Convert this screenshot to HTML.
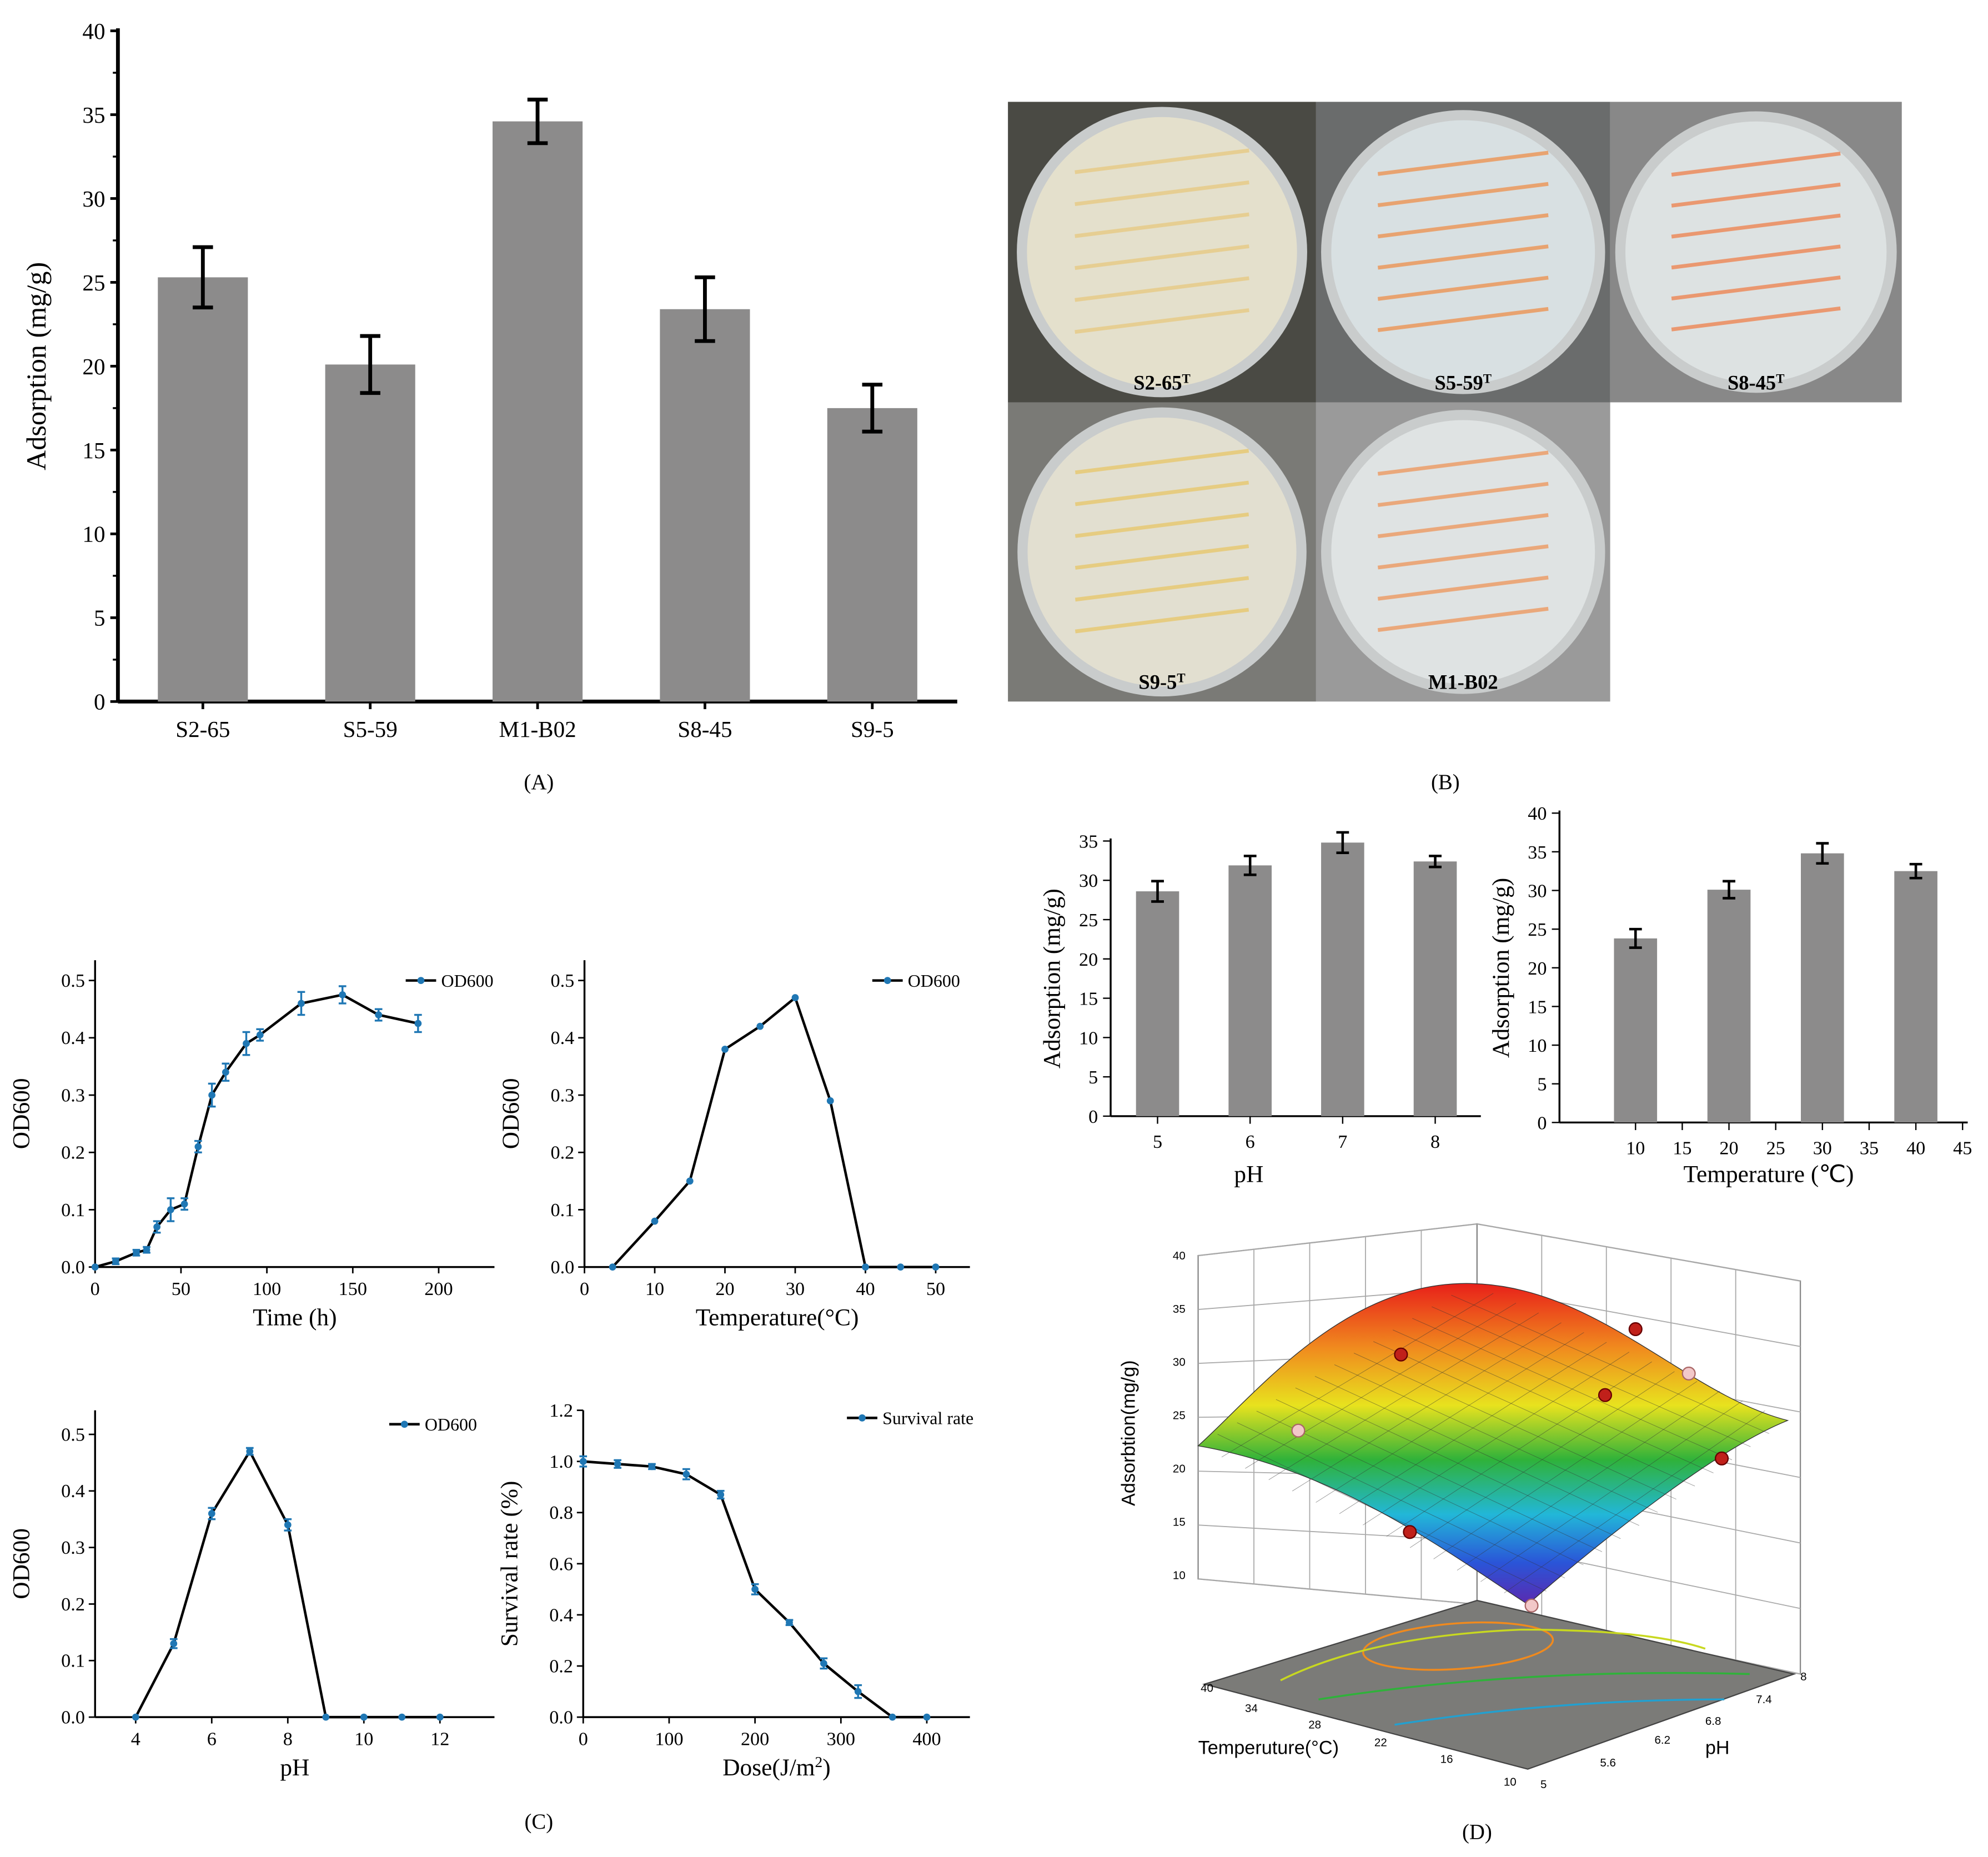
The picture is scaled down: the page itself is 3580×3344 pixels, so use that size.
<!DOCTYPE html>
<html><head><meta charset="utf-8">
<style>
html,body{margin:0;padding:0;background:#fff;}
svg{display:block;font-family:"Liberation Serif",serif;}
</style></head>
<body>
<svg id="s" width="3580" height="3344" viewBox="0 0 1568 1464" xmlns="http://www.w3.org/2000/svg">
<defs>
<linearGradient id="surf" x1="0" y1="0" x2="0" y2="1">
<stop offset="0" stop-color="#e8201a"/><stop offset="0.2" stop-color="#f08a1e"/><stop offset="0.38" stop-color="#e8e21e"/>
<stop offset="0.55" stop-color="#2fb23a"/><stop offset="0.72" stop-color="#22b7d8"/><stop offset="0.87" stop-color="#2a55d8"/><stop offset="1" stop-color="#5a2ab0"/>
</linearGradient>
</defs>
<g id="root"></g>
</svg>
<script>
const NS="http://www.w3.org/2000/svg";
const root=document.getElementById('root');
function el(tag,attrs,parent,text){const e=document.createElementNS(NS,tag);for(const k in attrs)e.setAttribute(k,attrs[k]);if(text!==undefined)e.textContent=text;(parent||root).appendChild(e);return e;}

// ---------- Panel A data ----------
const aCats=["S2-65","S5-59","M1-B02","S8-45","S9-5"];
const aVals=[25.3,20.1,34.6,23.4,17.5];
const aErr=[1.8,1.7,1.3,1.9,1.4];
const aTicks=[0,5,10,15,20,25,30,35,40];
// ---------- pH bar data ----------
const phCats=[5,6,7,8];
const phVals=[28.6,31.9,34.8,32.4];
const phErr=[1.3,1.2,1.3,0.7];
const phTicks=[0,5,10,15,20,25,30,35];
// ---------- Temperature bar data ----------
const tCats=[10,20,30,40];
const tVals=[23.8,30.1,34.8,32.5];
const tErr=[1.2,1.1,1.3,0.9];
const tTicks=[0,5,10,15,20,25,30,35,40];
const tXTicks=[10,15,20,25,30,35,40,45];
// ---------- Line charts ----------
const timeX=[0,12,24,30,36,44,52,60,68,76,88,96,120,144,165,188];
const timeY=[0,0.01,0.025,0.03,0.07,0.1,0.11,0.21,0.3,0.34,0.39,0.405,0.46,0.475,0.44,0.425];
const timeE=[0,0.005,0.005,0.005,0.01,0.02,0.01,0.01,0.02,0.015,0.02,0.01,0.02,0.015,0.01,0.015];
const tempX=[4,10,15,20,25,30,35,40,45,50];
const tempY=[0,0.08,0.15,0.38,0.42,0.47,0.29,0,0,0];
const pHX=[4,5,6,7,8,9,10,11,12];
const pHY=[0,0.13,0.36,0.47,0.34,0,0,0,0];
const pHE=[0,0.008,0.01,0.006,0.01,0,0,0,0];
const doseX=[0,40,80,120,160,200,240,280,320,360,400];
const doseY=[1.0,0.99,0.98,0.95,0.87,0.5,0.37,0.21,0.1,0,0];
const doseE=[0.02,0.015,0.01,0.02,0.015,0.02,0.01,0.02,0.025,0,0];

function barChart(o){
  const g=el('g',{});
  
  
  const ys=v=>o.y0-(v-o.vmin)*(o.y0-o.y1)/(o.vmax-o.vmin);
  el('line',{x1:o.ax,y1:o.y0,x2:o.ax,y2:o.y1-2,stroke:'#000','stroke-width':o.sw},g);
  el('line',{x1:o.ax,y1:o.y0,x2:o.axEnd,y2:o.y0,stroke:'#000','stroke-width':o.sw},g);
  o.ticks.forEach(t=>{const y=ys(t);el('line',{x1:o.ax-6,y1:y,x2:o.ax,y2:y,stroke:'#000','stroke-width':o.sw*0.7},g);
    const tl=el('text',{x:o.ax-10,y:y+o.fs*0.35,'font-size':o.fs,'text-anchor':'end'},g,t);
    });
  if(o.minor)o.ticks.slice(0,-1).forEach(t=>{const y=ys(t+(o.ticks[1]-o.ticks[0])/2);el('line',{x1:o.ax-4,y1:y,x2:o.ax,y2:y,stroke:'#000','stroke-width':1.5},g);});
  o.vals.forEach((v,i)=>{const cx=o.xs(o.cats[i]);
    const b=el('rect',{x:cx-o.bw/2,y:ys(v),width:o.bw,height:o.y0-ys(v),fill:'#8c8b8b'},g);
    
    const e=o.err[i],yt=ys(v+e),yb=ys(v-e);
    el('line',{x1:cx,y1:yt,x2:cx,y2:yb,stroke:'#000','stroke-width':o.ew},g);
    el('line',{x1:cx-o.cap,y1:yt,x2:cx+o.cap,y2:yt,stroke:'#000','stroke-width':o.ew},g);
    el('line',{x1:cx-o.cap,y1:yb,x2:cx+o.cap,y2:yb,stroke:'#000','stroke-width':o.ew},g);
  });
  (o.xticks||o.cats).forEach(c=>{const x=o.xs(c);
    el('line',{x1:x,y1:o.y0,x2:x,y2:o.y0+6,stroke:'#000','stroke-width':o.sw*0.7},g);
    const tl=el('text',{x:x,y:o.y0+o.fs+10,'font-size':o.fs,'text-anchor':'middle'},g,c);
    });
  const yl=el('text',{x:0,y:0,'font-size':o.lfs,'text-anchor':'middle',transform:`translate(${o.ylx},${(o.y0+o.y1)/2}) rotate(-90)`},g,o.ylabel);
  
  if(o.xlabel){const xl=el('text',{x:o.xlx,y:o.xly,'font-size':o.lfs,'text-anchor':'middle'},g,o.xlabel);
    }
}

// Panel A
barChart({name:'adsorption-bar-chart',ax:93,axEnd:755,y0:553,y1:24,vmin:0,vmax:40,ticks:aTicks,minor:true,
  cats:aCats,vals:aVals,err:aErr,xs:c=>160+aCats.indexOf(c)*132,bw:71,cap:8,ew:3,sw:3,fs:18,lfs:22,
  ylabel:'Adsorption (mg/g)',ylx:36});
// pH bars
barChart({name:'ph-bar-chart',ax:876,axEnd:1168,y0:880,y1:663,vmin:0,vmax:35,ticks:phTicks,
  cats:phCats,vals:phVals,err:phErr,xs:c=>913+(c-5)*73,bw:34,cap:5,ew:2,sw:1.5,fs:15,lfs:19,
  ylabel:'Adsorption (mg/g)',ylx:836,xlabel:'pH',xlx:985,xly:932});
// temp bars
barChart({name:'temperature-bar-chart',ax:1230,axEnd:1552,y0:885,y1:641,vmin:0,vmax:40,ticks:tTicks,
  cats:tCats,vals:tVals,err:tErr,xticks:tXTicks,xs:c=>1290+(c-10)*7.37,bw:34,cap:5,ew:2,sw:1.5,fs:15,lfs:19,
  ylabel:'Adsorption (mg/g)',ylx:1190,xlabel:'Temperature (℃)',xlx:1395,xly:932});

function lineChart(o){
  const g=el('g',{});
  
  
  const xs=v=>o.x0+(v-o.xmin)*(o.x1-o.x0)/(o.xmax-o.xmin);
  const ys=v=>o.y0-(v-o.ymin)*(o.y0-o.y1)/(o.ymax-o.ymin);
  el('line',{x1:o.axL,y1:o.y0,x2:o.axL,y2:o.yTop,stroke:'#000','stroke-width':1.5},g);
  el('line',{x1:o.axL,y1:o.y0,x2:o.axR,y2:o.y0,stroke:'#000','stroke-width':1.5},g);
  o.yt.forEach(t=>{const y=ys(t);el('line',{x1:o.axL-5,y1:y,x2:o.axL,y2:y,stroke:'#000','stroke-width':1.2},g);
    el('text',{x:o.axL-8,y:y+5,'font-size':15,'text-anchor':'end'},g,t.toFixed(1));});
  o.xt.forEach(t=>{const x=xs(t);el('line',{x1:x,y1:o.y0,x2:x,y2:o.y0+5,stroke:'#000','stroke-width':1.2},g);
    el('text',{x:x,y:o.y0+22,'font-size':15,'text-anchor':'middle'},g,t);});
  const pts=o.X.map((x,i)=>xs(x)+','+ys(o.Y[i])).join(' ');
  const pl=el('polyline',{points:pts,fill:'none',stroke:'#000','stroke-width':2},g);
  
  o.X.forEach((x,i)=>{const cx=xs(x),cy=ys(o.Y[i]);const e=o.E?o.E[i]:0;
    if(e>0){el('line',{x1:cx,y1:ys(o.Y[i]+e),x2:cx,y2:ys(o.Y[i]-e),stroke:'#1f77b4','stroke-width':1.5},g);
      el('line',{x1:cx-3,y1:ys(o.Y[i]+e),x2:cx+3,y2:ys(o.Y[i]+e),stroke:'#1f77b4','stroke-width':1.5},g);
      el('line',{x1:cx-3,y1:ys(o.Y[i]-e),x2:cx+3,y2:ys(o.Y[i]-e),stroke:'#1f77b4','stroke-width':1.5},g);}
    const p=el('circle',{cx:cx,cy:cy,r:2.8,fill:'#1f77b4'},g);
    });
  const lg=el('g',{},g);
  el('line',{x1:o.lx,y1:o.ly,x2:o.lx+24,y2:o.ly,stroke:'#000','stroke-width':2},lg);
  el('circle',{cx:o.lx+12,cy:o.ly,r:2.8,fill:'#1f77b4'},lg);
  el('text',{x:o.lx+28,y:o.ly+5,'font-size':14},lg,o.legend);
  const yl=el('text',{x:0,y:0,'font-size':19,'text-anchor':'middle',transform:`translate(${o.axL-52},${(o.y0+o.yTop)/2}) rotate(-90)`},g,o.ylabel);
  
  const xl=el('text',{x:(o.axL+o.axR)/2,y:o.y0+46,'font-size':19,'text-anchor':'middle'},g,o.xlabel);
  
  return xl;
}
lineChart({name:'od-time-chart',axL:75,axR:390,x0:75,x1:346,xmin:0,xmax:200,y0:999,y1:773,ymin:0,ymax:0.5,yTop:757,
  yt:[0,0.1,0.2,0.3,0.4,0.5],xt:[0,50,100,150,200],X:timeX,Y:timeY,E:timeE,lx:320,ly:773,legend:'OD600',ylabel:'OD600',xlabel:'Time (h)'});
lineChart({name:'od-temperature-chart',axL:461,axR:765,x0:461,x1:738,xmin:0,xmax:50,y0:999,y1:773,ymin:0,ymax:0.5,yTop:757,
  yt:[0,0.1,0.2,0.3,0.4,0.5],xt:[0,10,20,30,40,50],X:tempX,Y:tempY,lx:688,ly:773,legend:'OD600',ylabel:'OD600',xlabel:'Temperature(°C)'});
lineChart({name:'od-ph-chart',axL:75,axR:390,x0:107,x1:347,xmin:4,xmax:12,y0:1354,y1:1131,ymin:0,ymax:0.5,yTop:1112,
  yt:[0,0.1,0.2,0.3,0.4,0.5],xt:[4,6,8,10,12],X:pHX,Y:pHY,E:pHE,lx:307,ly:1123,legend:'OD600',ylabel:'OD600',xlabel:'pH'});
const dl=lineChart({name:'survival-dose-chart',axL:460,axR:765,x0:460,x1:731,xmin:0,xmax:400,y0:1354,y1:1112,ymin:0,ymax:1.2,yTop:1112,
  yt:[0,0.2,0.4,0.6,0.8,1.0,1.2],xt:[0,100,200,300,400],X:doseX,Y:doseY,E:doseE,lx:668,ly:1118,legend:'Survival rate',ylabel:'Survival rate (%)',xlabel:'Dose(J/m'});
const sup=el('tspan',{'baseline-shift':'super','font-size':12},dl,'2');el('tspan',{},dl,')');

// Panel labels
[['(A)',425,622],['(B)',1140,622],['(C)',425,1442],['(D)',1165,1450]].forEach(p=>{
  const t=el('text',{x:p[1],y:p[2],'font-size':17,'text-anchor':'middle'},root,p[0]);
  });

// Panel B photos
const plates=[[795,80,243,237,'S2-65','#4a4a44','#e4e0cc','#e8c77a'],[1038,80,232,237,'S5-59','#6a6c6c','#d8e0e2','#f08a40'],
 [1270,80,230,237,'S8-45','#888','#dde2e2','#f07a40'],[795,317,243,236,'S9-5','#7a7a76','#e2dfd0','#e8c460'],[1038,317,232,236,'M1-B02','#9a9a9a','#dfe3e3','#f09050']];
plates.forEach(p=>{const g=el('g',{});
  el('rect',{x:p[0],y:p[1],width:p[2],height:p[3],fill:p[5]},g);
  const cx=p[0]+p[2]/2,cy=p[1]+p[3]/2,r=Math.min(p[2],p[3])/2-4;
  el('circle',{cx:cx,cy:cy,r:r,fill:'#c9cccc'},g);
  el('circle',{cx:cx,cy:cy,r:r-8,fill:p[6]},g);
  for(let k=0;k<6;k++)el('line',{x1:cx-r*0.6,y1:cy-r*0.55+k*r*0.22,x2:cx+r*0.6,y2:cy-r*0.7+k*r*0.22,stroke:p[7],'stroke-width':3,opacity:0.7},g);
  const t=el('text',{x:cx,y:p[1]+p[3]-10,'font-size':16,'font-weight':'bold','text-anchor':'middle'},g,p[4]);
  if(p[4]!=='M1-B02')el('tspan',{'baseline-shift':'super','font-size':10},t,'T');});

// Panel D 3D surface
const d=el('g',{});
el('polygon',{points:'945,990 1165,965 1165,1265 945,1245',fill:'none',stroke:'#888','stroke-width':1},d);
el('polygon',{points:'1165,965 1420,1010 1420,1320 1165,1265',fill:'none',stroke:'#888','stroke-width':1},d);
for(let k=0;k<=6;k++){const f=k/6;el('line',{x1:945,y1:990+f*255,x2:1165,y2:965+f*300,stroke:'#aaa','stroke-width':0.8},d);
  el('line',{x1:1165,y1:965+f*300,x2:1420,y2:1010+f*310,stroke:'#aaa','stroke-width':0.8},d);}
for(let k=1;k<5;k++){el('line',{x1:945+k*44,y1:990-k*5,x2:945+k*44,y2:1245+k*4,stroke:'#aaa','stroke-width':0.8},d);
  el('line',{x1:1165+k*51,y1:965+k*9,x2:1165+k*51,y2:1265+k*11,stroke:'#aaa','stroke-width':0.8},d);}
el('polygon',{points:'950,1328 1205,1395 1415,1320 1165,1262',fill:'#7b7b78',stroke:'#444'},d);
el('ellipse',{cx:1150,cy:1298,rx:75,ry:18,fill:'none',stroke:'#f08a1e','stroke-width':1.5,transform:'rotate(-4 1150 1298)'},d);
el('path',{d:'M1010,1325 Q1080,1290 1200,1285 Q1300,1285 1345,1300',fill:'none',stroke:'#c8d820','stroke-width':1.5},d);
el('path',{d:'M1040,1340 Q1200,1315 1380,1320',fill:'none',stroke:'#2fb23a','stroke-width':1.5},d);
el('path',{d:'M1100,1360 Q1230,1340 1360,1340',fill:'none',stroke:'#22a0d0','stroke-width':1.5},d);
el('path',{d:'M945,1140 C990,1100 1060,1010 1160,1012 C1260,1014 1330,1100 1410,1120 C1360,1140 1280,1200 1205,1265 C1150,1230 1060,1160 945,1140 Z',fill:'url(#surf)',stroke:'#333','stroke-width':0.6},d);
for(let k=1;k<14;k++){const f=k/14;el('line',{x1:945+f*215,y1:1140-f*128,x2:1205+f*205,y2:1265-f*145,stroke:'#333','stroke-width':0.4,opacity:0.5},d);
  el('line',{x1:945+f*260,y1:1140+f*125,x2:1160+f*250,y2:1012+f*108,stroke:'#333','stroke-width':0.4,opacity:0.5},d);}
[[1105,1068],[1290,1048],[1266,1100],[1358,1150],[1112,1208]].forEach(p=>el('circle',{cx:p[0],cy:p[1],r:5,fill:'#c0201a',stroke:'#600'},d));
[[1332,1083],[1024,1128],[1208,1266]].forEach(p=>el('circle',{cx:p[0],cy:p[1],r:5,fill:'#f2c8c8',stroke:'#a66'},d));
[40,35,30,25,20,15,10].forEach((v,i)=>el('text',{x:935,y:993+i*42,'font-size':9,'text-anchor':'end','font-family':'Liberation Sans'},d,v));
el('text',{x:0,y:0,'font-size':15,'text-anchor':'middle','font-family':'Liberation Sans',transform:'translate(895,1130) rotate(-90)'},d,'Adsorbtion(mg/g)');
[[40,957,1334],[34,992,1350],[28,1042,1363],[22,1094,1377],[16,1146,1390],[10,1196,1408]].forEach(p=>el('text',{x:p[1],y:p[2],'font-size':9,'text-anchor':'end','font-family':'Liberation Sans'},d,p[0]));
[[5,1215,1410],['5.6',1262,1393],['6.2',1305,1375],['6.8',1345,1360],['7.4',1385,1343],[8,1420,1325]].forEach(p=>el('text',{x:p[1],y:p[2],'font-size':9,'font-family':'Liberation Sans'},d,p[0]));
el('text',{x:945,y:1383,'font-size':15,'font-family':'Liberation Sans'},d,'Temperuture(°C)');
el('text',{x:1345,y:1383,'font-size':15,'font-family':'Liberation Sans'},d,'pH');
</script>
</body></html>
